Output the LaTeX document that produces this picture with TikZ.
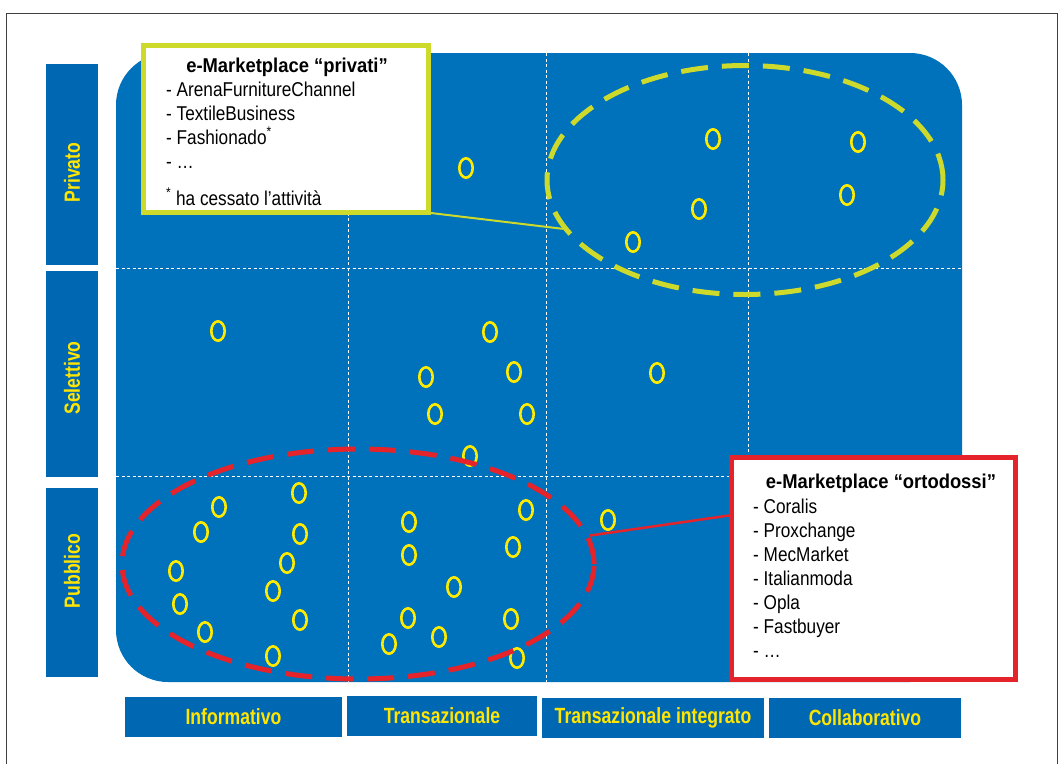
\documentclass[tikz,border=0pt]{standalone}
\usepackage{xcolor}
\usepackage{fontspec}
\usepackage{tikz}
\usetikzlibrary{shapes.geometric}

\setmainfont{Liberation Sans}
\newfontfamily\listfont{Liberation Sans}[FakeStretch=0.86]
\newfontfamily\headfont{Liberation Sans}[FakeStretch=0.92]
\newfontfamily\labfont{Liberation Sans}[FakeStretch=0.8]

\definecolor{panelblue}{HTML}{0072BB}
\definecolor{labblue}{HTML}{0067B2}
\definecolor{labyellow}{HTML}{FFE500}
\definecolor{dotyellow}{HTML}{FFEB00}
\definecolor{privgreen}{HTML}{CDD92B}
\definecolor{ortored}{HTML}{E4232A}

\begin{document}
\begin{tikzpicture}[
    x=1pt, y=-1pt,
    rowbox/.style={fill=labblue, rotate=90, minimum height=52pt, inner sep=0pt,
      text=labyellow, font=\labfont\bfseries\fontsize{22}{26}\selectfont},
    colbox/.style={fill=labblue, minimum height=40pt, inner sep=0pt,
      text=labyellow, font=\labfont\bfseries\fontsize{22}{26}\selectfont},
    grid line/.style={white, line width=0.8pt, dash pattern=on 3pt off 2.5pt},
    dot/.style={dotyellow, line width=2.6pt},
    group/.style={draw, ellipse, line width=5pt, dash pattern=on 27pt off 14pt, inner sep=0pt},
    infobox/.style={fill=white, line width=5pt, inner sep=0pt},
    boxtitle/.style={anchor=base, inner sep=0pt,
      font=\headfont\bfseries\fontsize{20}{24}\selectfont},
    boxlist/.style={anchor=north west, align=left, inner sep=0pt,
      font=\listfont\fontsize{20}{24}\selectfont}
  ]

  \useasboundingbox (0,0) rectangle (1064,764);
  \draw [black!75, line width=1pt] (6.5,764) -- (6.5,13.5) -- (1057,13.5) -- (1057,764);

  \fill [panelblue, rounded corners=52pt] (116,53) rectangle (962,682);
  \foreach \gx in {348,546,748}
    \draw [grid line] (\gx,53) -- (\gx,682);
  \foreach \gy in {268,476}
    \draw [grid line] (116,\gy) -- (962,\gy);

  \foreach \cx/\cy in {466/168, 713/139, 858/142, 699/209, 847/195, 633/242,
      218/331, 490/332, 426/377, 514/372, 657/373, 435/414, 527/414, 470/456,
      219/507, 299/493, 201/532, 300/534, 287/563, 176/571, 273/591, 180/604,
      300/620, 205/632, 273/656,
      409/522, 526/510, 409/555, 513/547, 454/587, 408/618, 511/619, 439/637,
      389/644, 517/658, 608/520}
    \draw [dot] (\cx,\cy) ellipse [x radius=6.7pt, y radius=9.7pt];

  \node [group, privgreen, minimum width=396pt, minimum height=229pt] (privgroup) at (745,180) {};
  \node [group, ortored, minimum width=472pt, minimum height=230pt] (ortogroup) at (358,564) {};

  \node [infobox, draw=privgreen, minimum width=285pt, minimum height=167pt] (privbox) at (286,129) {};
  \node [infobox, draw=ortored, minimum width=284pt, minimum height=222pt] (ortobox) at (873.5,568.5) {};

  \draw [privgreen, line width=2pt] ([yshift=2pt]privbox.south east) -- (privgroup.195);
  \draw [ortored, line width=2.5pt] (ortogroup.7) -- ([yshift=53pt]ortobox.west);

  \node [boxtitle] (privtitle) at (287,72) {e-Marketplace “privati”};
  \node [boxlist] (privlist) at (166,81.4)
    {- ArenaFurnitureChannel\\- TextileBusiness\\- Fashionado\textsuperscript{*}\\- \dots\\[13pt]\textsuperscript{*} ha cessato l’attività};

  \node [boxtitle] (ortotitle) at (881,488) {e-Marketplace “ortodossi”};
  \node [boxlist] (ortolist) at (753,498.4)
    {- Coralis\\- Proxchange\\- MecMarket\\- Italianmoda\\- Opla\\- Fastbuyer\\- \dots};

  \node [rowbox, minimum width=201pt] (privato) at (72,164.5) {Privato\kern16pt};
  \node [rowbox, minimum width=206pt] (selettivo) at (72,374) {Selettivo\kern8pt};
  \node [rowbox, minimum width=189pt] (pubblico) at (72,582.5) {\kern23pt Pubblico};

  \node [colbox, minimum width=217pt] (informativo) at (233.5,717) {Informativo};
  \node [colbox, minimum width=190pt] (transazionale) at (442,716) {Transazionale};
  \node [colbox, minimum width=222pt] (integrato) at (653,718) {Transazionale integrato};
  \node [colbox, minimum width=192pt] (collaborativo) at (865,717.5) {Collaborativo};

\end{tikzpicture}
\end{document}
